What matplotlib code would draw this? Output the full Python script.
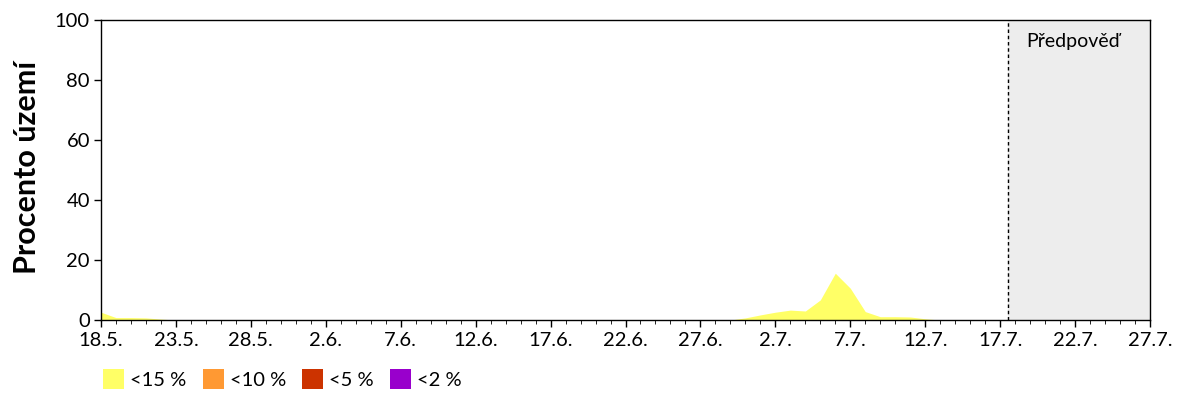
import matplotlib
matplotlib.use("Agg")
import matplotlib.pyplot as plt
from matplotlib.patches import Patch
import pandas as pd

plt.rcParams['font.family'] = ['Lato', 'DejaVu Sans']

# data: procento uzemi s vlhkosti pod prahem, po dnech od 18.5.
start = "2018-05-18"
pocet_dni = 71          # 18.5. az 27.7.
zacatek_predpovedi = 60.5

dny_pozorovani = list(range(61))
pod_15 = [2.6, 0.8, 0.8, 0.7, 0.3, 0, 0, 0, 0, 0,
          0, 0, 0, 0, 0, 0, 0, 0, 0, 0,
          0, 0, 0, 0, 0, 0, 0, 0, 0, 0,
          0, 0, 0, 0, 0, 0, 0, 0, 0, 0,
          0, 0, 0, 0.7, 1.7, 2.6, 3.3, 3.0, 6.7, 15.6,
          10.6, 2.8, 1.1, 1.1, 1.0, 0.4, 0, 0, 0, 0,
          0]

kategorie = ["<15 %", "<10 %", "<5 %", "<2 %"]
barvy = ["#FFFF66", "#FF9933", "#CC3300", "#9900CC"]

datumy = pd.date_range(start, periods=pocet_dni, freq="D")
popisky = [f"{d.day}.{d.month}." for d in datumy]

fig = plt.figure(figsize=(12, 4), dpi=100)
ax = fig.add_axes([101/1200, 0.2, 1049/1200, 0.75])

# oblast predpovedi
ax.axvspan(zacatek_predpovedi, pocet_dni - 1, color="#EDEDED", zorder=0)
ax.axvline(zacatek_predpovedi, color="black", lw=1, ls=(0, (2.5, 2)), zorder=1)
ax.text(61.75, 93, "Předpověď", ha="left", va="center", fontsize=14)

ax.fill_between(dny_pozorovani, 0, pod_15, color=barvy[0], lw=0, zorder=2)

ax.set_xlim(0, pocet_dni - 1)
ax.set_ylim(0, 100)
ax.set_xticks(range(0, pocet_dni, 5))
ax.set_xticklabels(popisky[::5])
ax.set_xticks(range(pocet_dni), minor=True)
ax.set_yticks(range(0, 101, 20))
ax.tick_params(axis="both", labelsize=14.5, direction="out", width=1)
ax.tick_params(axis="x", which="major", length=5, pad=4)
ax.tick_params(axis="x", which="minor", length=3)
ax.tick_params(axis="y", length=5, pad=3)
for s in ax.spines.values():
    s.set_linewidth(1)

ax.set_ylabel("Procento území", fontsize=22, fontweight="bold")
ax.yaxis.set_label_coords(-0.057, 0.51)

handles = [Patch(facecolor=c, edgecolor="none") for c in barvy]
fig.legend(handles, kategorie, loc="lower left", bbox_to_anchor=(93/1200, 1/400),
           ncol=4, frameon=False, fontsize=14.5, handlelength=1.05, handleheight=1.15,
           handletextpad=0.3, columnspacing=0.8, borderpad=0)

fig.savefig("out.png", dpi=100)
